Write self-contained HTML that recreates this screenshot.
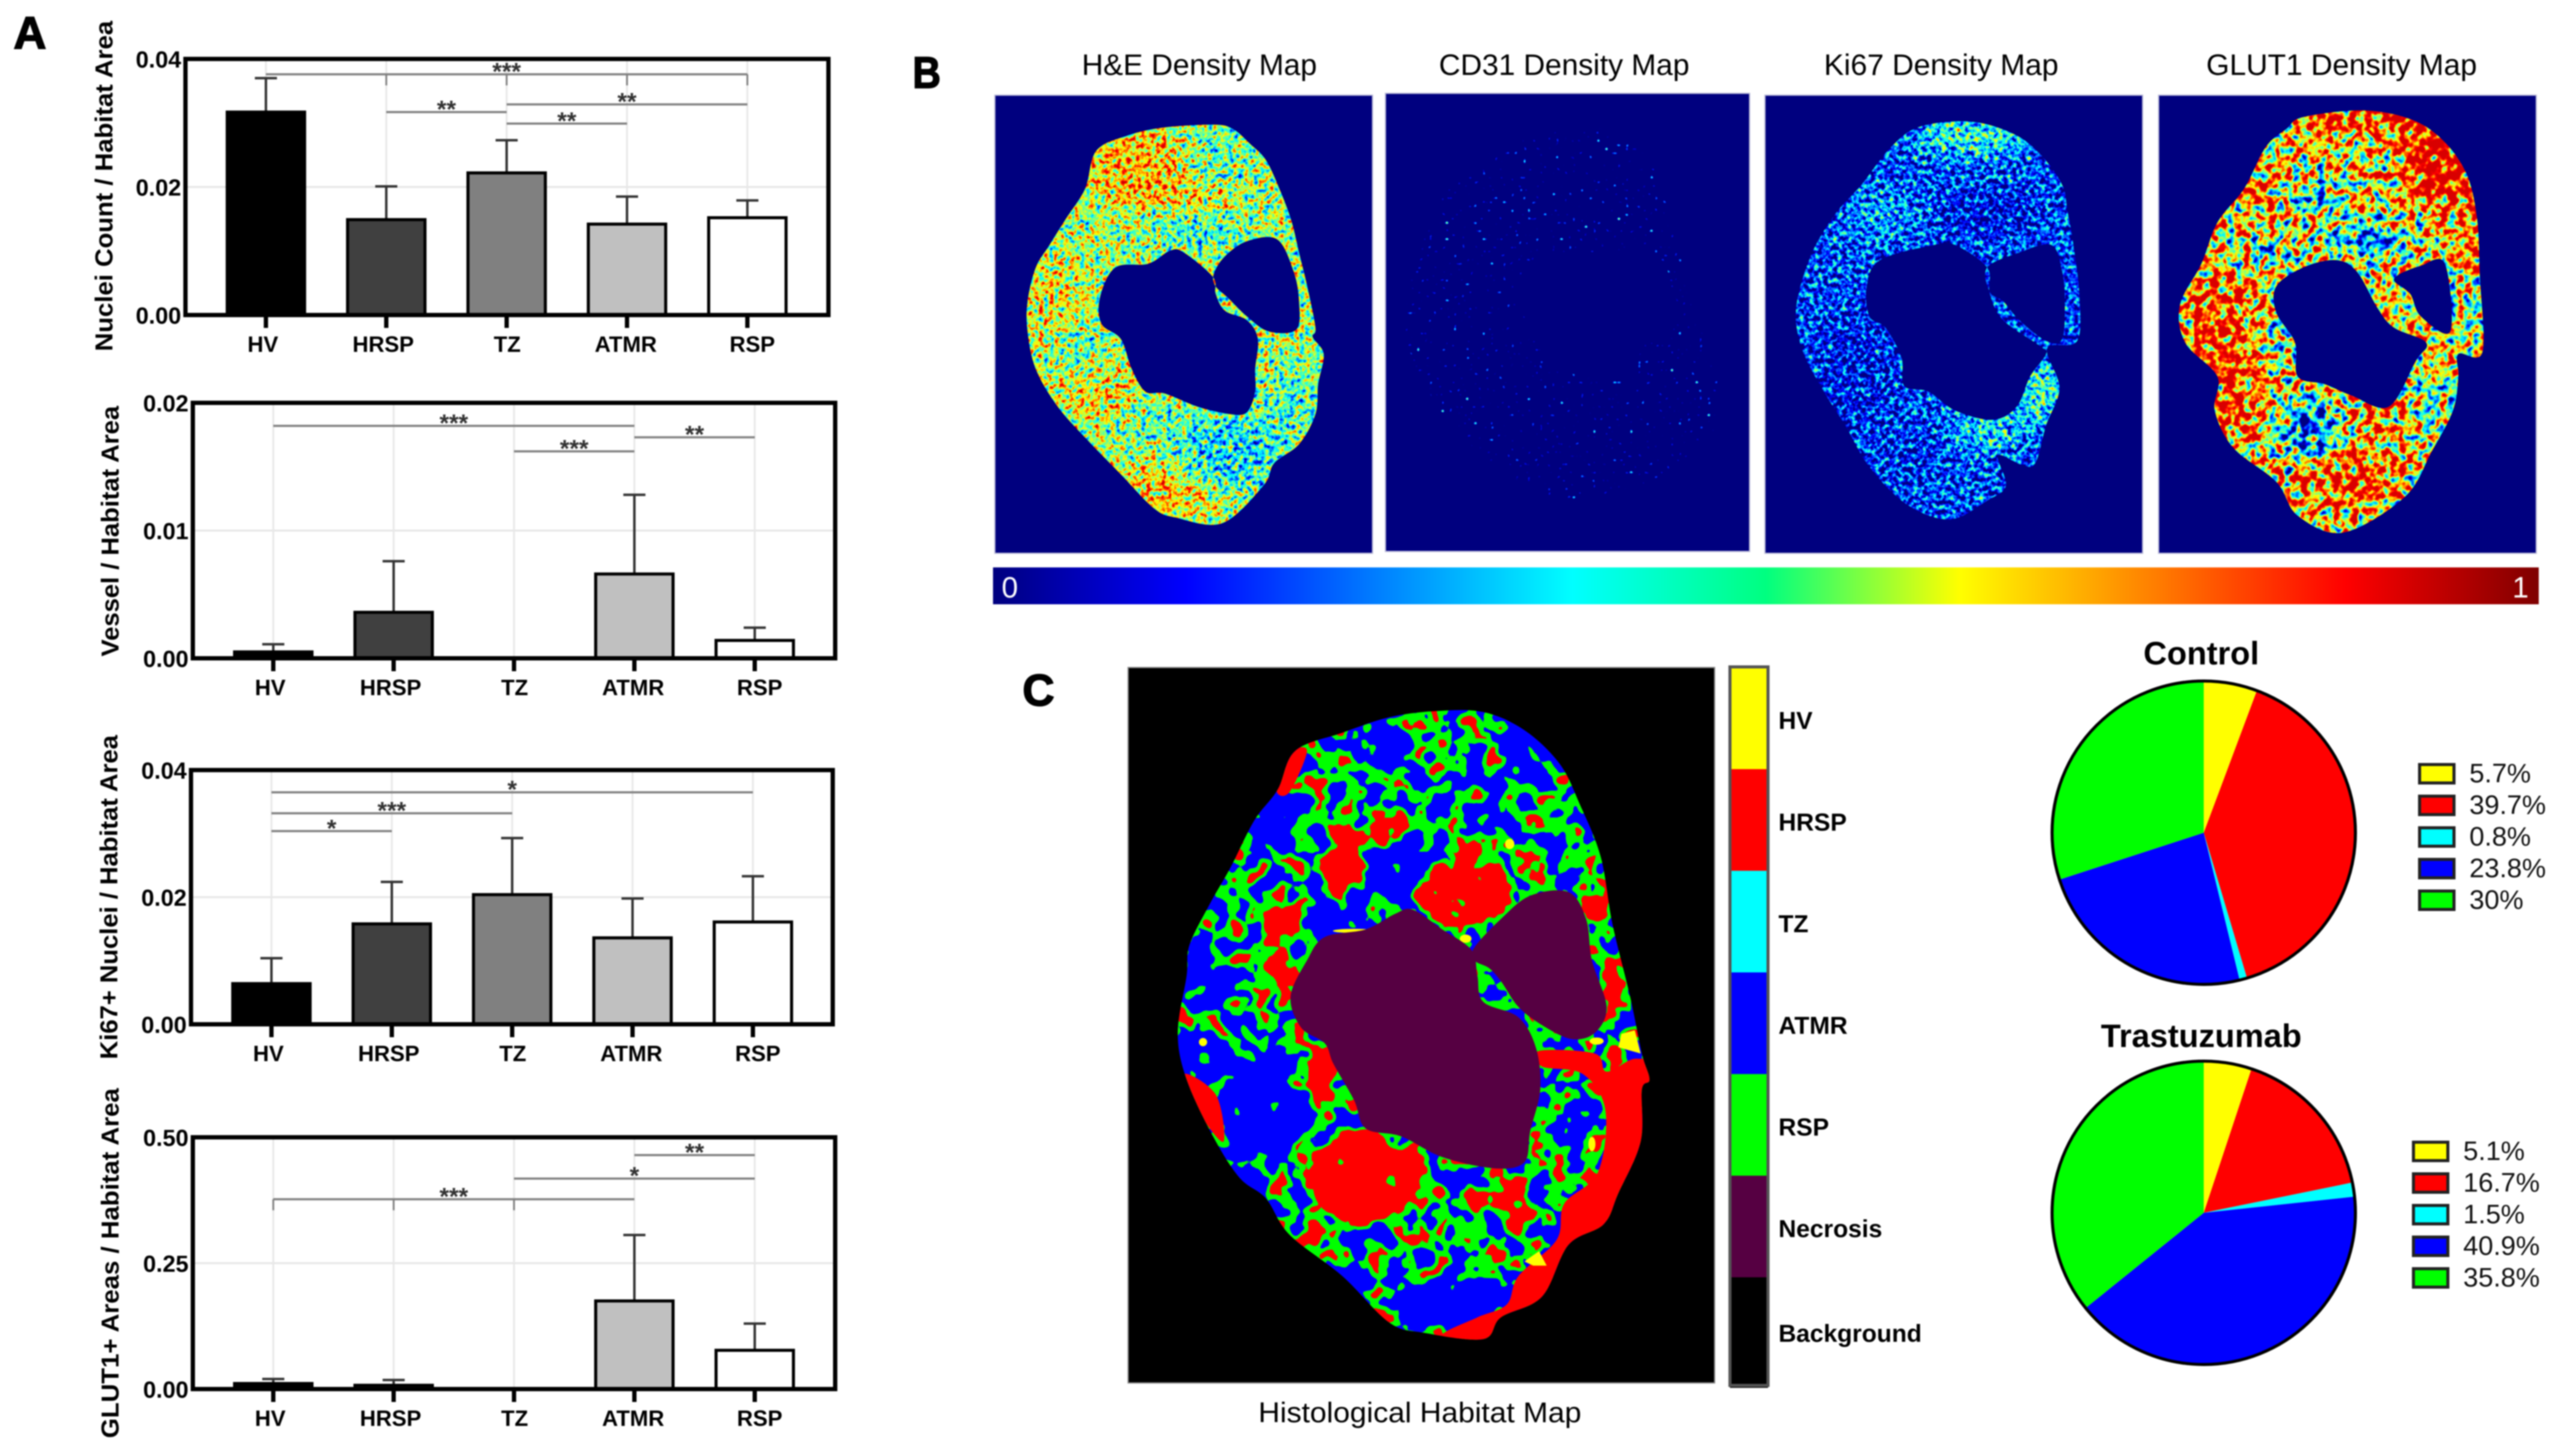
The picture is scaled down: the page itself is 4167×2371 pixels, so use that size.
<!DOCTYPE html>
<html lang="en">
<head>
<meta charset="utf-8">
<title>Histological habitat figure</title>
<style>
html,body{margin:0;padding:0;background:#fff;width:4167px;height:2371px;overflow:hidden}
svg{display:block;filter:blur(1.1px)}
text{font-family:"Liberation Sans",sans-serif}
</style>
</head>
<body>
<svg id="fig" xmlns="http://www.w3.org/2000/svg" width="4167" height="2371" viewBox="0 0 4167 2371">
<defs>
  <linearGradient id="jetBar" x1="0" x2="1" y1="0" y2="0">
    <stop offset="0" stop-color="#00007f"/><stop offset=".125" stop-color="#0000ff"/>
    <stop offset=".375" stop-color="#00ffff"/><stop offset=".5" stop-color="#00ff80"/><stop offset=".625" stop-color="#ffff00"/>
    <stop offset=".875" stop-color="#ff0000"/><stop offset="1" stop-color="#7f0000"/>
  </linearGradient>
  <filter id="soft" filterUnits="userSpaceOnUse" x="-600" y="-600" width="3200" height="3200" color-interpolation-filters="sRGB"><feGaussianBlur stdDeviation="28"/></filter>
  <filter id="softHab" filterUnits="userSpaceOnUse" x="-600" y="-600" width="3200" height="3200" color-interpolation-filters="sRGB"><feGaussianBlur stdDeviation="12"/></filter>

  <filter id="heJet" filterUnits="userSpaceOnUse" x="1620" y="155" width="615" height="746" color-interpolation-filters="sRGB">
    <feTurbulence type="fractalNoise" baseFrequency=".12" numOctaves="2" seed="4" result="n"/>
    <feColorMatrix in="n" type="matrix" values="1 0 0 0 0 1 0 0 0 0 1 0 0 0 0 0 0 0 0 1" result="g"/>
    <feComposite in="SourceGraphic" in2="g" operator="arithmetic" k1="0" k2="1" k3="1.15" k4="-.575"/>
    <feComponentTransfer><feFuncR type="table" tableValues="0 0 0 0 .5 1 1 1 .8"/><feFuncG type="table" tableValues="0 0 .5 1 1 1 .5 0 0"/><feFuncB type="table" tableValues=".5 1 1 1 .5 0 0 0 0"/></feComponentTransfer>
  </filter>
  <filter id="cdJet" filterUnits="userSpaceOnUse" x="2256" y="152" width="593" height="746" color-interpolation-filters="sRGB">
    <feTurbulence type="fractalNoise" baseFrequency=".15" numOctaves="1" seed="11" result="n"/>
    <feColorMatrix in="n" type="matrix" values="4 0 0 0 -2.8 4 0 0 0 -2.8 4 0 0 0 -2.8 0 0 0 0 1"/>
    <feComponentTransfer><feFuncR type="table" tableValues="0 0 0 0 .5 1 1 1 .5"/><feFuncG type="table" tableValues="0 0 .5 1 1 1 .5 0 0"/><feFuncB type="table" tableValues=".5 1 1 1 .5 0 0 0 0"/></feComponentTransfer>
  </filter>
  <filter id="kiJet" filterUnits="userSpaceOnUse" x="2874" y="155" width="615" height="746" color-interpolation-filters="sRGB">
    <feTurbulence type="fractalNoise" baseFrequency=".13" numOctaves="2" seed="7" result="n"/>
    <feColorMatrix in="n" type="matrix" values="1 0 0 0 0 1 0 0 0 0 1 0 0 0 0 0 0 0 0 1" result="g"/>
    <feComposite in="SourceGraphic" in2="g" operator="arithmetic" k1="0" k2="1" k3="1.15" k4="-.575"/>
    <feComponentTransfer><feFuncR type="table" tableValues="0 0 0 0 .5 1 1 1 .5"/><feFuncG type="table" tableValues="0 0 .5 1 1 1 .5 0 0"/><feFuncB type="table" tableValues=".5 1 1 1 .5 0 0 0 0"/></feComponentTransfer>
  </filter>
  <filter id="glJet" filterUnits="userSpaceOnUse" x="3515" y="155" width="615" height="746" color-interpolation-filters="sRGB">
    <feTurbulence type="fractalNoise" baseFrequency=".075" numOctaves="2" seed="9" result="n"/>
    <feColorMatrix in="n" type="matrix" values="1 0 0 0 0 1 0 0 0 0 1 0 0 0 0 0 0 0 0 1" result="g"/>
    <feComposite in="SourceGraphic" in2="g" operator="arithmetic" k1="0" k2="1" k3="1.8" k4="-.9"/>
    <feComponentTransfer><feFuncR type="table" tableValues="0 0 0 0 .5 1 1 1 .85"/><feFuncG type="table" tableValues="0 0 .5 1 1 1 .5 0 0"/><feFuncB type="table" tableValues=".5 1 1 1 .5 0 0 0 0"/></feComponentTransfer>
  </filter>
  <filter id="habitat" filterUnits="userSpaceOnUse" x="1837" y="1087" width="955" height="1165" color-interpolation-filters="sRGB">
    <feTurbulence type="fractalNoise" baseFrequency=".031" numOctaves="2" seed="21" result="n"/>
    <feColorMatrix in="n" type="matrix" values="1 0 0 0 0 1 0 0 0 0 1 0 0 0 0 0 0 0 0 1" result="g"/>
    <feComposite in="SourceGraphic" in2="g" operator="arithmetic" k1="0" k2="1" k3="1.15" k4="-.575"/>
    <feComponentTransfer>
      <feFuncR type="discrete" tableValues="0 0 0 0 0 0 0 0 0 0 0 0 0 1 1 1 1 1 1 1"/>
      <feFuncG type="discrete" tableValues="0 0 0 0 0 0 0 0 0 1 1 1 1 0 0 0 0 0 0 0"/>
      <feFuncB type="discrete" tableValues="1 1 1 1 1 1 1 1 1 0 0 0 0 0 0 0 0 0 0 0"/>
    </feComponentTransfer>
  </filter>

  <clipPath id="clipHe"><path transform="translate(1450 50) scale(.893 .6122)" clip-rule="evenodd" data-pts="495,258 590,250 625,262 655,300 685,345 712,430 732,510 745,590 760,680 775,790 770,815 790,860 780,940 775,1020 745,1100 700,1150 680,1210 605,1310 520,1295 480,1270 420,1180 360,1090 305,1000 265,900 250,800 250,720 265,630 290,570 320,500 355,420 375,320 430,280|510,585 535,590 588,655 593,700 610,745 650,770 670,820 665,900 665,960 650,1015 620,1020 560,1000 500,965 465,960 440,900 420,820 385,780 382,710 410,630 470,620|590,645 610,600 650,560 705,555 735,640 745,720 740,795 690,800 650,760 615,710 592,678"/></clipPath>
  <clipPath id="clipCd"><path transform="translate(1450 50) scale(.893 .6122)" clip-rule="evenodd" data-pts="1225,265 1330,275 1400,390 1440,600 1480,800 1510,960 1490,1090 1400,1190 1220,1245 1120,1170 1030,1060 960,900 940,760 970,560 1020,420 1100,320|1190,600 1300,590 1410,620 1420,800 1350,850 1340,930 1220,900 1170,810 1150,700"/></clipPath>
  <clipPath id="clipKi"><path transform="translate(2800 50) scale(.8718 .6122)" clip-rule="evenodd" data-pts="375,255 470,242 550,275 600,330 640,410 650,480 660,560 672,700 668,825 612,845 635,950 610,1050 590,1150 565,1155 520,1130 535,1210 500,1250 430,1300 350,1260 280,1160 235,1050 195,960 155,850 143,740 170,600 215,490 265,410 320,310|300,610 400,570 440,570 500,630 505,700 530,770 600,840 610,860 580,920 555,1000 510,1035 440,1010 390,960 345,945 340,870 310,790 280,760 275,680|500,630 560,590 620,570 640,640 645,720 640,820 610,825 560,770 530,720 505,695"/></clipPath>
  <clipPath id="clipGl"><path transform="translate(2800 50) scale(.8718 .6122)" clip-rule="evenodd" data-pts="1090,230 1200,212 1290,235 1350,290 1395,380 1415,500 1420,650 1425,855 1380,860 1380,920 1370,1010 1330,1120 1280,1240 1165,1335 1080,1290 1040,1200 960,1110 925,1010 930,920 870,830 860,730 900,620 930,510 980,420 1020,310 1060,260|1040,680 1090,630 1150,610 1190,640 1230,740 1260,790 1320,830 1300,880 1250,1000 1180,970 1130,940 1080,920 1075,830 1040,750|1260,660 1310,625 1355,620 1365,800 1310,760 1290,700"/></clipPath>
  <clipPath id="clipBody"><path transform="translate(1650 1050) scale(.9566 .8425)" data-pts="480,205 560,170 640,140 720,128 800,130 870,165 930,230 965,310 1000,410 1020,540 1050,680 1070,790 1083,840 1070,860 1068,960 1030,1060 1005,1120 945,1160 900,1260 830,1300 800,1342 700,1330 640,1310 560,1220 470,1140 430,1070 385,1030 340,950 295,840 280,750 295,640 300,580 335,500 370,430 410,340 450,280"/></clipPath>
</defs>

<g id="panelA">
  <text x="22" y="79" font-size="74" font-weight="700" stroke="#000" stroke-width="2">A</text>
</g>

<g>
  <text x="1486" y="143" font-size="72" font-weight="700" stroke="#000" stroke-width="2" textLength="46" lengthAdjust="spacingAndGlyphs">B</text>
  <text x="1953" y="122" font-size="48" text-anchor="middle" textLength="383" lengthAdjust="spacingAndGlyphs">H&amp;E Density Map</text>
  <text x="2547" y="122" font-size="48" text-anchor="middle" textLength="408" lengthAdjust="spacingAndGlyphs">CD31 Density Map</text>
  <text x="3161" y="122" font-size="48" text-anchor="middle" textLength="382" lengthAdjust="spacingAndGlyphs">Ki67 Density Map</text>
  <text x="3813" y="122" font-size="48" text-anchor="middle" textLength="441" lengthAdjust="spacingAndGlyphs">GLUT1 Density Map</text>

  <g>
    <rect x="1620" y="155" width="615" height="746" fill="#00007f" stroke="#b9b9d8" stroke-width="2"/>
    <g clip-path="url(#clipHe)"><g filter="url(#heJet)">
      <rect x="1620" y="155" width="615" height="746" fill="#888888"/>
      <g transform="translate(1450 50) scale(.893 .6122)" filter="url(#soft)">
        <ellipse cx="460" cy="370" rx="100" ry="110" fill="#b0b0b0"/>
        <ellipse cx="560" cy="440" rx="60" ry="60" fill="#acacac"/>
        <ellipse cx="300" cy="760" rx="50" ry="180" fill="#a0a0a0"/>
        <ellipse cx="380" cy="950" rx="70" ry="80" fill="#a4a4a4"/>
        <ellipse cx="510" cy="1220" rx="90" ry="70" fill="#acacac"/>
        <ellipse cx="590" cy="340" rx="50" ry="80" fill="#707070"/>
        <ellipse cx="560" cy="530" rx="90" ry="50" fill="#686868"/>
        <ellipse cx="620" cy="1120" rx="100" ry="100" fill="#5c5c5c"/>
        <ellipse cx="730" cy="980" rx="40" ry="90" fill="#686868"/>
        <ellipse cx="340" cy="850" rx="50" ry="70" fill="#747474"/>
        <ellipse cx="480" cy="1040" rx="50" ry="50" fill="#707070"/>
      </g>
    </g></g>
  </g>
  <g>
    <rect x="2256" y="152" width="593" height="746" fill="#00007f" stroke="#b9b9d8" stroke-width="2"/>
    <g clip-path="url(#clipCd)"><rect x="2256" y="152" width="593" height="746" fill="#000" filter="url(#cdJet)"/></g>
  </g>
  <g>
    <rect x="2874" y="155" width="615" height="746" fill="#00007f" stroke="#b9b9d8" stroke-width="2"/>
    <g clip-path="url(#clipKi)"><g filter="url(#kiJet)">
      <rect x="2874" y="155" width="615" height="746" fill="#303030"/>
      <g transform="translate(2800 50) scale(.8718 .6122)" filter="url(#soft)">
        <ellipse cx="470" cy="280" rx="110" ry="50" fill="#6c6c6c"/>
        <ellipse cx="600" cy="960" rx="40" ry="90" fill="#787878"/>
        <ellipse cx="500" cy="1060" rx="60" ry="60" fill="#606060"/>
        <ellipse cx="250" cy="900" rx="80" ry="170" fill="#202020"/>
        <ellipse cx="500" cy="480" rx="100" ry="60" fill="#1c1c1c"/>
        <ellipse cx="300" cy="490" rx="70" ry="70" fill="#484848"/>
        <ellipse cx="350" cy="1130" rx="60" ry="80" fill="#242424"/>
      </g>
    </g></g>
  </g>
  <g>
    <rect x="3515" y="155" width="615" height="746" fill="#9c9c9c"/>
    <rect x="3515" y="155" width="615" height="746" fill="#00007f" stroke="#b9b9d8" stroke-width="2"/>
    <g clip-path="url(#clipGl)"><g filter="url(#glJet)">
      <rect x="3515" y="155" width="615" height="746" fill="#9c9c9c"/>
      <g transform="translate(2800 50) scale(.8718 .6122)" filter="url(#soft)">
        <ellipse cx="1350" cy="340" rx="70" ry="130" fill="#f4f4f4"/>
        <ellipse cx="1200" cy="240" rx="130" ry="30" fill="#e8e8e8"/>
        <ellipse cx="1405" cy="560" rx="20" ry="110" fill="#eeeeee"/>
        <ellipse cx="940" cy="800" rx="70" ry="170" fill="#d4d4d4"/>
        <ellipse cx="970" cy="1010" rx="50" ry="90" fill="#dcdcdc"/>
        <ellipse cx="1170" cy="1180" rx="100" ry="90" fill="#d0d0d0"/>
        <ellipse cx="1000" cy="420" rx="30" ry="50" fill="#e0e0e0"/>
        <ellipse cx="1240" cy="1020" rx="60" ry="40" fill="#d0d0d0"/>
        <ellipse cx="1100" cy="1060" rx="55" ry="85" fill="#303030"/>
        <ellipse cx="1210" cy="560" rx="65" ry="45" fill="#303030"/>
        <ellipse cx="1120" cy="440" rx="45" ry="45" fill="#505050"/>
        <ellipse cx="1030" cy="590" rx="40" ry="40" fill="#585858"/>
        <ellipse cx="1340" cy="1000" rx="50" ry="90" fill="#707070"/>
        <ellipse cx="1390" cy="720" rx="25" ry="90" fill="#606060"/>
        <ellipse cx="1040" cy="810" rx="18" ry="40" fill="#101010"/>
      </g>
    </g></g>
  </g>

  <g>
    <rect x="1617" y="924" width="2517" height="60" fill="url(#jetBar)"/>
    <text x="1631" y="973" font-size="48" fill="#fff">0</text>
    <text x="4091" y="973" font-size="48" fill="#fff">1</text>
  </g>
</g>

<g>
  <text x="1665" y="1149" font-size="72" font-weight="700" stroke="#000" stroke-width="2">C</text>
  <g>
    <rect x="1837" y="1087" width="955" height="1165" fill="#000" stroke="#888" stroke-width="2"/>
    <g clip-path="url(#clipBody)">
      <g filter="url(#habitat)">
        <rect x="1837" y="1087" width="955" height="1165" fill="#7a7a7a"/>
        <g transform="translate(1650 1050) scale(.9566 .8425)" filter="url(#softHab)">
          <ellipse cx="450" cy="340" rx="45" ry="60" fill="#3a3a3a"/>
          <ellipse cx="640" cy="440" rx="60" ry="50" fill="#303030"/>
          <ellipse cx="420" cy="900" rx="70" ry="110" fill="#2c2c2c"/>
          <ellipse cx="750" cy="1270" rx="90" ry="50" fill="#282828"/>
          <ellipse cx="880" cy="210" rx="55" ry="60" fill="#3c3c3c"/>
          <ellipse cx="540" cy="530" rx="40" ry="35" fill="#363636"/>
          <ellipse cx="340" cy="640" rx="45" ry="60" fill="#404040"/>
          <ellipse cx="340" cy="800" rx="50" ry="40" fill="#3c3c3c"/>
          <ellipse cx="780" cy="340" rx="70" ry="22" fill="#4c4c4c"/>
          <ellipse cx="560" cy="1250" rx="50" ry="40" fill="#303030"/>
          <ellipse cx="640" cy="200" rx="35" ry="45" fill="#505050"/>
          <ellipse cx="960" cy="920" rx="22" ry="50" fill="#484848"/>
          <ellipse cx="920" cy="1120" rx="18" ry="40" fill="#484848"/>
          <ellipse cx="640" cy="1130" rx="30" ry="25" fill="#404040"/>
          <ellipse cx="510" cy="920" rx="22" ry="40" fill="#484848"/>
          <ellipse cx="730" cy="1110" rx="90" ry="60" fill="#868686"/>
          <ellipse cx="500" cy="1130" rx="50" ry="40" fill="#909090"/>
          <ellipse cx="940" cy="980" rx="50" ry="40" fill="#888888"/>
          <ellipse cx="770" cy="480" rx="78" ry="55" fill="#ececec"/>
          <ellipse cx="775" cy="415" rx="18" ry="30" fill="#e4e4e4"/>
          <ellipse cx="570" cy="360" rx="24" ry="50" fill="#dcdcdc"/>
          <ellipse cx="555" cy="440" rx="45" ry="30" fill="#e0e0e0"/>
          <ellipse cx="460" cy="540" rx="34" ry="45" fill="#e0e0e0"/>
          <ellipse cx="450" cy="640" rx="26" ry="44" fill="#e4e4e4"/>
          <ellipse cx="590" cy="1030" rx="88" ry="88" fill="#f4f4f4"/>
          <ellipse cx="660" cy="1020" rx="45" ry="45" fill="#eeeeee"/>
          <ellipse cx="850" cy="1080" rx="34" ry="42" fill="#d8d8d8"/>
          <ellipse cx="990" cy="510" rx="20" ry="50" fill="#e0e0e0"/>
          <ellipse cx="1020" cy="650" rx="16" ry="50" fill="#e0e0e0"/>
          <ellipse cx="530" cy="830" rx="24" ry="70" fill="#e0e0e0"/>
          <ellipse cx="640" cy="350" rx="24" ry="28" fill="#c8c8c8"/>
          <ellipse cx="880" cy="420" rx="40" ry="20" fill="#c0c0c0"/>
        </g>
      </g>
      <g transform="translate(1650 1050) scale(.9566 .8425)">
        <path fill="#ff0000" data-pts="895,785 990,790 1010,825 1060,800 1100,830 1100,1000 1010,1150 950,1170 900,1280 830,1320 790,1350 730,1335 790,1300 840,1275 860,1220 925,1150 938,1080 995,1020 1008,900 970,830 900,815"/>
        <path fill="#ff0000" data-pts="290,830 345,870 358,960 320,910"/>
        <path fill="#ff0000" data-pts="470,210 500,205 470,285 448,280"/>
        <g fill="#ffff00">
          <path d="M1035 752L1058 745L1068 790L1030 778Z"/><path d="M870 1192L895 1172L908 1200L885 1200Z"/>
          <ellipse cx="323" cy="768" rx="7" ry="8"/><ellipse cx="985" cy="965" rx="6" ry="14"/>
          <ellipse cx="845" cy="385" rx="8" ry="10"/><ellipse cx="993" cy="766" rx="12" ry="7"/>
          <ellipse cx="580" cy="553" rx="36" ry="4"/><ellipse cx="770" cy="568" rx="10" ry="8"/>
        </g>
      </g>
    </g>
    <g transform="translate(1650 1050) scale(.9566 .8425)" fill="#560042">
      <path data-pts="680,512 730,550 780,590 790,640 800,690 860,720 890,780 897,860 880,940 870,1000 820,1012 730,990 660,950 600,935 580,880 545,810 530,770 490,740 472,680 500,610 530,565 600,550 650,520"/>
      <path data-pts="785,585 830,530 880,485 945,478 975,530 985,610 1010,700 990,750 950,762 900,735 860,700 830,650 810,625 785,610"/>
    </g>
  </g>
  <text x="2312" y="2316" font-size="46" text-anchor="middle" textLength="526" lengthAdjust="spacingAndGlyphs">Histological Habitat Map</text>

  <g id="habLegend"></g>
  <g id="pies"></g>
</g>

<script>
// ---------- Panel A data ----------
const categories = ['HV', 'HRSP', 'TZ', 'ATMR', 'RSP'];
const barFills = ['#000000', '#404040', '#808080', '#c0c0c0', '#ffffff'];

const nucleiMeans = [0.0317, 0.0149, 0.0222, 0.0142, 0.0152];
const nucleiUppers = [0.0370, 0.0201, 0.0273, 0.0185, 0.0179];
const nucleiTicks = ['0.00', '0.02', '0.04'];
const nucleiBrackets = [[0, 4, 0.0376, '***'], [1, 2, 0.0317, '**'], [2, 4, 0.0329, '**'], [2, 3, 0.0299, '**']];
const nucleiDrops = [1, 2, 3, 4];

const vesselMeans = [0.0005, 0.0036, 0, 0.0066, 0.0014];
const vesselUppers = [0.0011, 0.0076, 0, 0.0128, 0.0024];
const vesselTicks = ['0.00', '0.01', '0.02'];
const vesselBrackets = [[0, 3, 0.0182, '***'], [2, 3, 0.0162, '***'], [3, 4, 0.0173, '**']];
const vesselDrops = [];

const ki67Means = [0.0064, 0.0158, 0.0204, 0.0136, 0.0161];
const ki67Uppers = [0.0104, 0.0224, 0.0293, 0.0198, 0.0233];
const ki67Ticks = ['0.00', '0.02', '0.04'];
const ki67Brackets = [[0, 4, 0.0365, '*'], [0, 2, 0.0332, '***'], [0, 1, 0.0304, '*']];
const ki67Drops = [];

const glut1Means = [0.011, 0.0075, 0, 0.175, 0.077];
const glut1Uppers = [0.020, 0.018, 0, 0.306, 0.130];
const glut1Ticks = ['0.00', '0.25', '0.50'];
const glut1Brackets = [[3, 4, 0.4646, '**'], [2, 4, 0.418, '*'], [0, 3, 0.377, '***']];
const glut1Drops = [0, 1, 2];

// ---------- Panel C data ----------
const habitatLabels = ['HV', 'HRSP', 'TZ', 'ATMR', 'RSP', 'Necrosis', 'Background'];
const habitatColors = ['#ffff00', '#ff0000', '#00ffff', '#0000ff', '#00ff00', '#560042', '#000000'];
const pieColors = ['#ffff00', '#ff0000', '#00ffff', '#0000ff', '#00ff00'];
const controlShares = [5.7, 39.7, 0.8, 23.8, 30];
const trastuzumabShares = [5.1, 16.7, 1.5, 40.9, 35.8];

const NS = 'http://www.w3.org/2000/svg';
function mk(tag, attrs, parent, txt) {
  const el = document.createElementNS(NS, tag);
  for (const k in attrs) el.setAttribute(k, attrs[k]);
  if (txt !== undefined) el.textContent = txt;
  parent.appendChild(el);
  return el;
}

// Smooth closed outlines for image-like regions
function smoothLoop(pts) {
  const n = pts.length;
  let d = 'M' + pts[0][0] + ' ' + pts[0][1];
  for (let i = 0; i < n; i++) {
    const p0 = pts[(i - 1 + n) % n], p1 = pts[i], p2 = pts[(i + 1) % n], p3 = pts[(i + 2) % n];
    const c1x = p1[0] + (p2[0] - p0[0]) / 6, c1y = p1[1] + (p2[1] - p0[1]) / 6;
    const c2x = p2[0] - (p3[0] - p1[0]) / 6, c2y = p2[1] - (p3[1] - p1[1]) / 6;
    d += 'C' + c1x + ' ' + c1y + ' ' + c2x + ' ' + c2y + ' ' + p2[0] + ' ' + p2[1];
  }
  return d + 'Z';
}
document.querySelectorAll('[data-pts]').forEach(function (p) {
  const d = p.getAttribute('data-pts').split('|').map(function (loop) {
    return smoothLoop(loop.trim().split(' ').map(function (s) { return s.split(',').map(Number); }));
  }).join('');
  p.setAttribute('d', d);
  p.removeAttribute('data-pts');
});

// ---------- Bar charts ----------
function barChart(root, name, box, yMax, means, uppers, ticks, brackets, drops, title, titleBox) {
  const g = mk('g', {}, root);
  
  
  const x = function (i) { return box.left + 131 + i * 196; };
  const y = function (v) { return box.bottom - v / yMax * (box.bottom - box.top); };

  ticks.forEach(function (t) {
    const v = parseFloat(t);
    if (v > 0 && v < yMax) {
      const grid = mk('line', { x1: box.left, x2: box.right, y1: y(v), y2: y(v), stroke: '#e6e6e6', 'stroke-width': 3 }, g);
      
      
    }
  });
  categories.forEach(function (c, i) {
    const grid = mk('line', { x1: x(i), x2: x(i), y1: box.top, y2: box.bottom, stroke: '#e8e8e8', 'stroke-width': 3 }, g);
    
    
  });

  brackets.forEach(function (b) {
    const xa = x(b[0]), xb = x(b[1]), yy = y(b[2]);
    const line = mk('line', { x1: xa, x2: xb, y1: yy, y2: yy, stroke: '#808080', 'stroke-width': 3.5 }, g);
    
    
    const star = mk('text', { x: (xa + xb) / 2, y: yy + 9, 'font-size': 40, 'font-weight': 700, 'text-anchor': 'middle', fill: '#333' }, g, b[3]);
    
    
  });
  drops.forEach(function (i) {
    const top = y(Math.max.apply(null, brackets.filter(function (b) { return b[3] === '***'; }).map(function (b) { return b[2]; })));
    const drop = mk('line', { x1: x(i), x2: x(i), y1: top, y2: top + 18, stroke: '#808080', 'stroke-width': 3 }, g);
    
    
  });

  categories.forEach(function (c, i) {
    if (uppers[i] > 0) {
      const stem = mk('line', { x1: x(i), x2: x(i), y1: y(uppers[i]), y2: y(means[i]), stroke: '#333', 'stroke-width': 4 }, g);
      
      
      const cap = mk('line', { x1: x(i) - 18, x2: x(i) + 18, y1: y(uppers[i]), y2: y(uppers[i]), stroke: '#333', 'stroke-width': 4 }, g);
      
      
    }
    const bar = mk('rect', { x: x(i) - 63, y: y(means[i]), width: 126, height: Math.max(0, box.bottom - y(means[i])), fill: barFills[i], stroke: '#000', 'stroke-width': 5 }, g);
    
    
  });

  const frame = mk('rect', { x: box.left, y: box.top, width: box.right - box.left, height: box.bottom - box.top, fill: 'none', stroke: '#000', 'stroke-width': 7 }, g);
  
  

  const labelShift = [-5, -5, 1, -2, 8];
  categories.forEach(function (c, i) {
    const tick = mk('line', { x1: x(i), x2: x(i), y1: box.bottom, y2: box.bottom + 21, stroke: '#000', 'stroke-width': 7 }, g);
    
    
    const lab = mk('text', { x: x(i) + labelShift[i], y: box.bottom + 60, 'font-size': 36, 'font-weight': 700, 'text-anchor': 'middle' }, g, c);
    
    
  });
  ticks.forEach(function (t) {
    const lab = mk('text', { x: box.left - 7, y: y(parseFloat(t)) + 14, 'font-size': 38, 'font-weight': 700, 'text-anchor': 'end' }, g, t);
    
    
  });
  const yt = mk('text', { x: 0, y: 0, 'font-size': 40, 'font-weight': 700, 'text-anchor': 'middle', textLength: titleBox.len, lengthAdjust: 'spacingAndGlyphs', transform: 'translate(' + titleBox.x + ' ' + titleBox.y + ') rotate(-90)' }, g, title);
  
  
}

const panelA = document.getElementById('panelA');
barChart(panelA, 'nuclei', { left: 302, right: 1349, top: 96, bottom: 513 }, 0.04, nucleiMeans, nucleiUppers, nucleiTicks, nucleiBrackets, nucleiDrops, 'Nuclei Count / Habitat Area', { x: 183, y: 303, len: 538 });
barChart(panelA, 'vessel', { left: 314, right: 1360, top: 656, bottom: 1072 }, 0.02, vesselMeans, vesselUppers, vesselTicks, vesselBrackets, vesselDrops, 'Vessel / Habitat Area', { x: 193, y: 865, len: 408 });
barChart(panelA, 'ki67', { left: 311, right: 1356, top: 1254, bottom: 1668 }, 0.04, ki67Means, ki67Uppers, ki67Ticks, ki67Brackets, ki67Drops, 'Ki67+ Nuclei / Habitat Area', { x: 191, y: 1461, len: 528 });
barChart(panelA, 'glut1', { left: 314, right: 1360, top: 1852, bottom: 2262 }, 0.5, glut1Means, glut1Uppers, glut1Ticks, glut1Brackets, glut1Drops, 'GLUT1+ Areas / Habitat Area', { x: 193, y: 2057, len: 570 });

// ---------- Habitat legend ----------
const habLegend = document.getElementById('habLegend');
habitatLabels.forEach(function (lab, i) {
  const segTop = 1087, segH = 165.5;
  const h = i === 6 ? 180 : segH;
  const seg = mk('rect', { x: 2817, y: segTop + i * segH, width: 62, height: h, fill: habitatColors[i] }, habLegend);
  
  
  const t = mk('text', { x: 2896, y: segTop + i * segH + (i === 6 ? 105 : 100), 'font-size': 40, 'font-weight': 700 }, habLegend, lab);
  
  
});
const legBorder = mk('rect', { x: 2817, y: 1086, width: 62, height: 1170, fill: 'none', stroke: '#555', 'stroke-width': 5 }, habLegend);



// ---------- Pies ----------
function pie(root, name, title, shares, cx, cy, r, titleY, legX, legY) {
  const g = mk('g', {}, root);
  
  
  const total = shares.reduce(function (a, b) { return a + b; }, 0);
  const pt = function (f) { const a = f * 2 * Math.PI; return [cx + r * Math.sin(a), cy - r * Math.cos(a)]; };
  let acc = 0;
  shares.forEach(function (v, i) {
    const f0 = acc / total; acc += v; const f1 = acc / total;
    const p0 = pt(f0), p1 = pt(f1);
    const d = 'M' + cx + ' ' + cy + 'L' + p0[0] + ' ' + p0[1] + 'A' + r + ' ' + r + ' 0 ' + (f1 - f0 > 0.5 ? 1 : 0) + ' 1 ' + p1[0] + ' ' + p1[1] + 'Z';
    const s = mk('path', { d: d, fill: pieColors[i] }, g);
    
    
    const sw = mk('rect', { x: legX, y: legY + i * 51.5 - 15, width: 56, height: 30, fill: pieColors[i], stroke: '#222', 'stroke-width': 5 }, g);
    
    
    const lt = mk('text', { x: legX + 81, y: legY + i * 51.5 + 14, 'font-size': 44, fill: '#111' }, g, v + '%');
    
    
  });
  const ring = mk('circle', { cx: cx, cy: cy, r: r, fill: 'none', stroke: '#000', 'stroke-width': 5 }, g);
  
  
  const tt = mk('text', { x: cx - 4, y: titleY, 'font-size': 53, 'font-weight': 700, 'text-anchor': 'middle' }, g, title);
  
  
}
const pies = document.getElementById('pies');
pie(pies, 'control', 'Control', controlShares, 3588.5, 1356, 247, 1082, 3940, 1260);
pie(pies, 'trastuzumab', 'Trastuzumab', trastuzumabShares, 3588.5, 1975, 247, 1705, 3930, 1875);
</script>
</svg>
</body>
</html>
